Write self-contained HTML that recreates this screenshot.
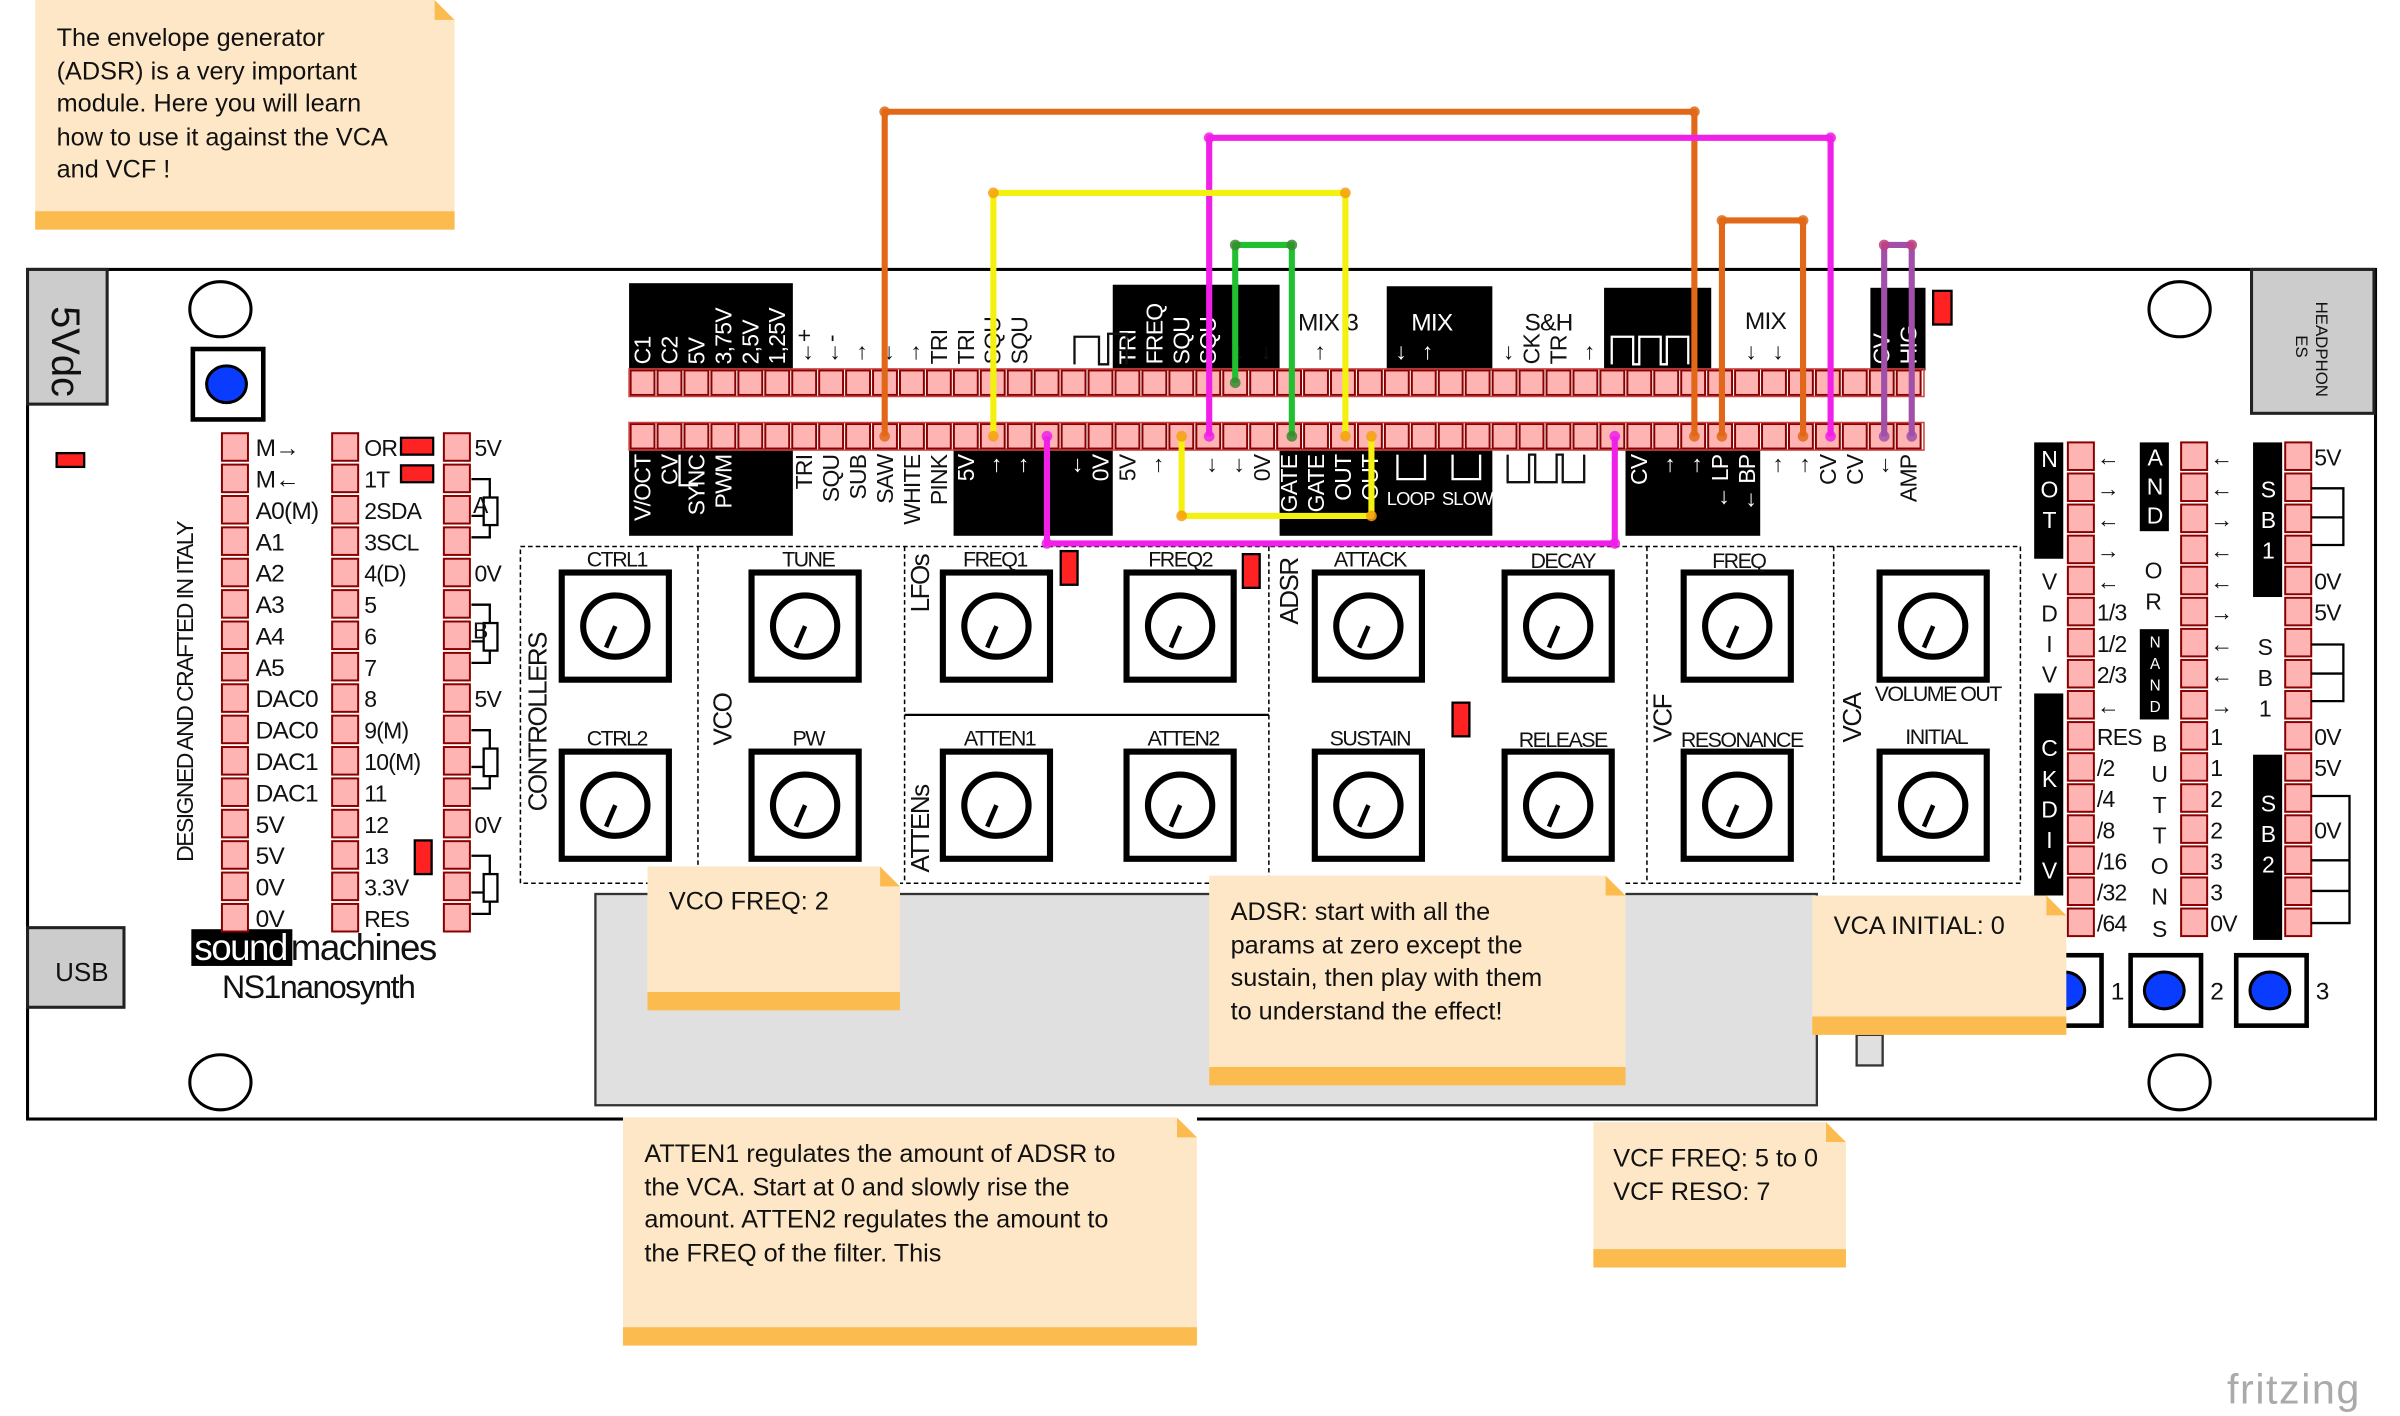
<!DOCTYPE html>
<html><head><meta charset="utf-8"><style>
html,body{margin:0;padding:0;background:#fff;}
svg{display:block}
text{font-family:"Liberation Sans Narrow","Liberation Sans",sans-serif;}
.n{font-family:"DejaVu Sans","Liberation Sans",sans-serif;font-size:16.5px;fill:#111}
</style></head><body>
<svg id="s" xmlns="http://www.w3.org/2000/svg" width="2400" height="1416" viewBox="0 0 1568 925" preserveAspectRatio="none">
<rect x="0" y="0" width="1568" height="925" fill="#fff"/>
<rect x="18" y="176" width="1534" height="555" fill="#fff" stroke="#000" stroke-width="2"/>
<rect x="18" y="176" width="52" height="88" fill="#ccc" stroke="#222" stroke-width="2"/>
<text transform="translate(34,200) rotate(90)" font-size="26" fill="#111">5Vdc</text>
<rect x="18" y="606" width="63" height="52" fill="#ccc" stroke="#222" stroke-width="2"/>
<text x="36" y="641" font-size="17" fill="#111">USB</text>
<rect x="1471" y="176" width="80" height="94" fill="#ccc" stroke="#222" stroke-width="2"/>
<text transform="translate(1513,197) rotate(90)" font-size="11" fill="#111">HEADPHON</text>
<text transform="translate(1500,219) rotate(90)" font-size="11" fill="#111">ES</text>
<ellipse cx="144" cy="202" rx="20" ry="18" fill="#fff" stroke="#000" stroke-width="2"/>
<ellipse cx="144" cy="707" rx="20" ry="18" fill="#fff" stroke="#000" stroke-width="2"/>
<ellipse cx="1424" cy="202" rx="20" ry="18" fill="#fff" stroke="#000" stroke-width="2"/>
<ellipse cx="1424" cy="707" rx="20" ry="18" fill="#fff" stroke="#000" stroke-width="2"/>
<rect x="126" y="228" width="46" height="46" fill="#fff" stroke="#000" stroke-width="3"/>
<ellipse cx="148" cy="251" rx="13" ry="12" fill="#0a3cff" stroke="#000" stroke-width="2"/>
<rect x="37" y="296" width="18" height="9" fill="#f22" stroke="#000" stroke-width="1.5"/>
<text transform="translate(126,563) rotate(-90)" font-size="15" fill="#111" letter-spacing="-1">DESIGNED AND CRAFTED IN ITALY</text>
<rect x="125" y="607" width="66" height="24" fill="#000"/>
<text x="127" y="627" font-size="24" fill="#fff" letter-spacing="-1">sound</text>
<text x="190" y="627" font-size="24" fill="#111" letter-spacing="-1">machines</text>
<text x="145" y="652" font-size="21" fill="#111" letter-spacing="-1">NS1nanosynth</text>
<rect x="389" y="584" width="798" height="138" fill="#e0e0e0" stroke="#333" stroke-width="1.5"/>
<rect x="1213" y="676" width="17" height="20" fill="#e0e0e0" stroke="#333" stroke-width="1.5"/>
<rect x="340" y="357" width="980" height="220" fill="none" stroke="#000" stroke-width="1" stroke-dasharray="3,2"/>
<g stroke="#000" stroke-width="1" stroke-dasharray="3,2">
<line x1="456" y1="357" x2="456" y2="577"/><line x1="591" y1="357" x2="591" y2="577"/><line x1="829" y1="357" x2="829" y2="577"/><line x1="1076" y1="357" x2="1076" y2="577"/><line x1="1198" y1="357" x2="1198" y2="577"/>
</g>
<line x1="591" y1="467" x2="829" y2="467" stroke="#000" stroke-width="1.5"/>
<g id="knobs"></g>
<g font-size="14" fill="#111" text-anchor="middle" letter-spacing="-1">
<text x="403" y="370">CTRL1</text><text x="528" y="370">TUNE</text><text x="650" y="370">FREQ1</text><text x="771" y="370">FREQ2</text><text x="895" y="370">ATTACK</text><text x="1021" y="371">DECAY</text><text x="1136" y="371">FREQ</text><text x="1266" y="458">VOLUME OUT</text>
<text x="403" y="487">CTRL2</text><text x="528" y="487">PW</text><text x="653" y="487">ATTEN1</text><text x="773" y="487">ATTEN2</text><text x="895" y="487">SUSTAIN</text><text x="1021" y="488">RELEASE</text><text x="1138" y="488">RESONANCE</text><text x="1265" y="486">INITIAL</text>
</g>
<g font-size="17" fill="#111" letter-spacing="-1">
<text transform="translate(357,530) rotate(-90)">CONTROLLERS</text>
<text transform="translate(478,487) rotate(-90)">VCO</text>
<text transform="translate(607,400) rotate(-90)">LFOs</text>
<text transform="translate(607,570) rotate(-90)">ATTENs</text>
<text transform="translate(848,408) rotate(-90)">ADSR</text>
<text transform="translate(1092,485) rotate(-90)">VCF</text>
<text transform="translate(1216,485) rotate(-90)">VCA</text>
</g>
<g fill="#f22" stroke="#000" stroke-width="1.5">
<rect x="693" y="360" width="11" height="22"/><rect x="812" y="362" width="11" height="22"/><rect x="949" y="459" width="11" height="22"/><rect x="1263" y="190" width="12" height="22"/><rect x="271" y="549" width="11" height="22"/><rect x="262" y="286" width="21" height="11"/><rect x="262" y="304" width="21" height="11"/>
</g>
<g fill="#000">
<rect x="411" y="185" width="107" height="57"/><rect x="727" y="186" width="109" height="56"/><rect x="906" y="187" width="69" height="55"/><rect x="1048" y="188" width="70" height="54"/><rect x="1222" y="188" width="36" height="54"/>
<rect x="411" y="293" width="107" height="57"/><rect x="623" y="293" width="104" height="57"/><rect x="836" y="293" width="139" height="57"/><rect x="1062" y="293" width="88" height="57"/>
<rect x="1329" y="289" width="19" height="76"/><rect x="1329" y="453" width="19" height="137"/><rect x="1398" y="289" width="19" height="58"/><rect x="1398" y="411" width="19" height="59"/><rect x="1472" y="289" width="19" height="101"/><rect x="1472" y="493" width="19" height="121"/>
</g>
<g id="pins"></g>
<g id="lbl" font-size="15" letter-spacing="-0.5"></g>
<g font-family="DejaVu Sans,sans-serif" font-size="15" text-anchor="middle">
<g fill="#fff"><text x="1339" y="305">N</text><text x="1339" y="325">O</text><text x="1339" y="345">T</text>
<text x="1339" y="494">C</text><text x="1339" y="514">K</text><text x="1339" y="534">D</text><text x="1339" y="554">I</text><text x="1339" y="574">V</text>
<text x="1408" y="304">A</text><text x="1408" y="323">N</text><text x="1408" y="342">D</text>
<g font-size="10"><text x="1408" y="423">N</text><text x="1408" y="437">A</text><text x="1408" y="451">N</text><text x="1408" y="465">D</text></g>
<text x="1482" y="325">S</text><text x="1482" y="345">B</text><text x="1482" y="365">1</text>
<text x="1482" y="530">S</text><text x="1482" y="550">B</text><text x="1482" y="570">2</text></g>
<g fill="#111"><text x="1339" y="385">V</text><text x="1339" y="406">D</text><text x="1339" y="426">I</text><text x="1339" y="446">V</text>
<text x="1407" y="378">O</text><text x="1407" y="398">R</text>
<text x="1411" y="491">B</text><text x="1411" y="511">U</text><text x="1411" y="531">T</text><text x="1411" y="551">T</text><text x="1411" y="571">O</text><text x="1411" y="591">N</text><text x="1411" y="612">S</text>
<text x="1480" y="428">S</text><text x="1480" y="448">B</text><text x="1480" y="468">1</text></g>
</g>
<g id="btns"></g>
<g fill="none" stroke-width="4" stroke-linejoin="round">
<polyline points="578,285 578,73 1107,73 1107,285" stroke="#e06818"/>
<polyline points="790,285 790,90 1196,90 1196,285" stroke="#f020e8"/>
<polyline points="649,285 649,126 879,126 879,285" stroke="#f4f010"/>
<polyline points="807,250 807,160 844,160 844,285" stroke="#20c030"/>
<polyline points="1125,285 1125,144 1178,144 1178,285" stroke="#e06818"/>
<polyline points="1231,285 1231,160 1249,160 1249,285" stroke="#a050a8"/>
<polyline points="684,285 684,355 1055,355 1055,285" stroke="#f020e8"/>
<polyline points="772,285 772,337 896,337 896,285" stroke="#f4f010"/>
</g>
<g id="ends"></g>
<g id="notes"></g>
<g class="n">
<text x="37" y="30">The envelope generator</text><text x="37" y="52">(ADSR) is a very important</text><text x="37" y="73">module. Here you will learn</text><text x="37" y="95">how to use it against the VCA</text><text x="37" y="116">and VCF !</text>
<text x="437" y="594">VCO FREQ: 2</text>
<text x="804" y="601">ADSR: start with all the</text><text x="804" y="623">params at zero except the</text><text x="804" y="644">sustain, then play with them</text><text x="804" y="666">to understand the effect!</text>
<text x="1198" y="610">VCA INITIAL: 0</text>
<text x="421" y="759">ATTEN1 regulates the amount of ADSR to</text><text x="421" y="781">the VCA. Start at 0 and slowly rise the</text><text x="421" y="802">amount. ATTEN2 regulates the amount to</text><text x="421" y="824">the FREQ of the filter. This</text>
<text x="1054" y="762">VCF FREQ: 5 to 0</text><text x="1054" y="784">VCF RESO: 7</text>
</g>
<text x="1455" y="917" font-family="DejaVu Sans,sans-serif" font-size="27" fill="#aaa" letter-spacing="1">fritzing</text>
</svg>
<script>
(function(){
var NS="http://www.w3.org/2000/svg";
function el(p,t,a,txt){var e=document.createElementNS(NS,t);for(var k in a)e.setAttribute(k,a[k]);if(txt!=null)e.textContent=txt;var par=document.getElementById(p);var s=document.getElementById("s");if(p==="notes"){s.insertBefore(e,par);}else{par.appendChild(e);}return e;}
function pin(x,y,w,h){el("pins","rect",{x:x,y:y,width:w,height:h,fill:"#ffb4b4",stroke:"#8a0000","stroke-width":1.3});}
var P=17.6,i,r,y;
for(i=0;i<48;i++){pin(411+P*i+1,242,P-2,16);pin(411+P*i+1,277,P-2,16);}
el("pins","rect",{x:411,y:241,width:846,height:18,fill:"none",stroke:"#c44","stroke-width":1});
el("pins","rect",{x:411,y:276,width:846,height:18,fill:"none",stroke:"#c44","stroke-width":1});
var L1=["M→","M←","A0(M)","A1","A2","A3","A4","A5","DAC0","DAC0","DAC1","DAC1","5V","5V","0V","0V"];
var L2=["OR","1T","2SDA","3SCL","4(D)","5","6","7","8","9(M)","10(M)","11","12","13","3.3V","RES"];
var L3=["5V","","","","0V","","","","5V","","","","0V","","",""];
for(r=0;r<16;r++){y=283+r*20.5;
 pin(145,y,17,18);pin(217,y,17,18);pin(290,y,17,18);
 el("lbl","text",{x:167,y:y+15,"font-size":16,fill:"#111"},L1[r]);
 el("lbl","text",{x:238,y:y+15,"font-size":15,fill:"#111","font-family":"DejaVu Sans,sans-serif"},L2[r]);
 if(L3[r])el("lbl","text",{x:310,y:y+15,"font-size":15,fill:"#111","font-family":"DejaVu Sans,sans-serif"},L3[r]);}
[[308,327,"A"],[308,409,"B"],[308,491,""],[308,573,""]].forEach(function(a){
 el("lbl","path",{d:"M"+a[0]+" "+(a[1]-14)+"h12v12 M"+a[0]+" "+(a[1]+24)+"h12v-12 M"+a[0]+" "+(a[1]+10)+"h12",fill:"none",stroke:"#000","stroke-width":1.5});
 el("lbl","rect",{x:316,y:a[1]-2,width:9,height:18,fill:"#fff",stroke:"#000","stroke-width":1.5});
 if(a[2])el("lbl","text",{x:309,y:a[1]+8,"font-size":15,fill:"#111"},a[2]);});
var R1=["←","→","←","→","←","1/3","1/2","2/3","←","RES","/2","/4","/8","/16","/32","/64"];
var R2=["←","←","→","←","←","→","←","←","→","1","1","2","2","3","3","0V"];
var R3=["5V","","","","0V","5V","","","","0V","5V","","0V","","",""];
for(r=0;r<16;r++){y=289+r*20.3;
 pin(1351,y,17,18);pin(1425,y,17,18);pin(1493,y,17,18);
 el("lbl","text",{x:1370,y:y+15,"font-size":15,fill:"#111"},R1[r]);
 el("lbl","text",{x:1444,y:y+15,"font-size":15,fill:"#111"},R2[r]);
 if(R3[r])el("lbl","text",{x:1512,y:y+15,"font-size":15,fill:"#111"},R3[r]);}
el("lbl","path",{d:"M1510 319h21v37h-21 M1510 338h21 M1510 421h21v37h-21 M1510 440h21 M1510 520h25v83h-25 M1510 562h25 M1510 582h25",fill:"none",stroke:"#000","stroke-width":1.5});
[[1327,"1"],[1392,"2"],[1461,"3"]].forEach(function(b){
 el("btns","rect",{x:b[0],y:624,width:46,height:46,fill:"#fff",stroke:"#000","stroke-width":3});
 el("btns","ellipse",{cx:b[0]+22,cy:647,rx:13,ry:12,fill:"#0a3cff",stroke:"#000","stroke-width":2});
 el("btns","text",{x:b[0]+52,y:653,"font-size":16,fill:"#111","font-family":"DejaVu Sans,sans-serif"},b[1]);});
[402,526,651,771,894,1018,1135,1263].forEach(function(cx){[409,526].forEach(function(cy){
 el("knobs","rect",{x:cx-35,y:cy-35,width:70,height:70,fill:"#fff",stroke:"#000","stroke-width":4});
 el("knobs","ellipse",{cx:cx,cy:cy,rx:21,ry:20,fill:"none",stroke:"#000","stroke-width":4});
 el("knobs","line",{x1:cx,y1:cy,x2:cx-6,y2:cy+14,stroke:"#000","stroke-width":3});});});
function fx(t){return t.replace(/↓/g,"\u0001").replace(/↑/g,"→").replace(/\u0001/g,"←");}
function tl(i,t,c){var x=411+P*i+14;el("lbl","text",{transform:"translate("+x+",238) rotate(-90)",fill:c||"#111","font-size":15},fx(t));}
function bl(i,t,c){var x=411+P*i+14;el("lbl","text",{transform:"translate("+x+",297) rotate(-90)",fill:c||"#111","text-anchor":"end","font-size":15},fx(t));}
["C1","C2","5V","3,75V","2,5V","1,25V"].forEach(function(t,i){tl(i,t,"#fff");});
tl(6,"↓+");tl(7,"↓-");tl(8,"↑");tl(9,"↓ -");tl(10,"↑");tl(11,"TRI");tl(12,"TRI");tl(13,"SQU");tl(14,"SQU");
tl(18,"TRI","#fff");tl(19,"FREQ","#fff");tl(20,"SQU","#fff");tl(21,"SQU","#fff");
tl(22,"↓");tl(23,"↓");tl(25,"↑");tl(26,"↓","#fff");tl(27,"↓","#fff");tl(28,"↓","#fff");tl(29,"↑","#fff");
tl(32,"↓");tl(33,"CK");tl(34,"TR");tl(35,"↑");tl(41,"↓");tl(42,"↓");tl(44,"GATE","#fff");tl(45,"GATE","#fff");tl(46,"CV","#fff");tl(47,"HIG","#fff");
el("lbl","text",{x:848,y:216,"font-size":16,fill:"#111"},"MIX 3");
el("lbl","text",{x:922,y:216,"font-size":16,fill:"#fff"},"MIX");
el("lbl","text",{x:996,y:216,"font-size":16,fill:"#111"},"S&H");
el("lbl","text",{x:1140,y:215,"font-size":16,fill:"#111"},"MIX");
el("lbl","path",{d:"M702 238v-18h16v18h6v-20h12v20",fill:"none",stroke:"#111","stroke-width":1.5});
el("lbl","path",{d:"M1053 238v-18h14v18h4v-18h14v18h4v-18h14v18",fill:"none",stroke:"#fff","stroke-width":1.5});
["V/OCT","CV","SYNC","PWM"].forEach(function(t,i){bl(i,t,"#fff");});
bl(6,"TRI");bl(7,"SQU");bl(8,"SUB");bl(9,"SAW");bl(10,"WHITE");bl(11,"PINK");
bl(12,"5V","#fff");bl(13,"↑","#fff");bl(14,"↑","#fff");bl(16,"↓","#fff");bl(17,"0V","#fff");
bl(18,"5V");bl(19,"↑");bl(21,"↓");bl(22,"↓");bl(23,"0V");
bl(24,"GATE","#fff");bl(25,"GATE","#fff");bl(26,"OUT","#fff");bl(27,"OUT","#fff");
bl(36,"CV","#fff");bl(37,"CV","#fff");bl(38,"↑","#fff");bl(39,"↑","#fff");bl(40,"↓ LP","#fff");bl(41,"↓ BP","#fff");
bl(42,"↑");bl(43,"↑");bl(44,"CV");bl(45,"CV");bl(46,"↓");bl(47,"AMP");
el("lbl","text",{x:906,y:330,"font-size":12,fill:"#fff"},"LOOP");
el("lbl","text",{x:942,y:330,"font-size":12,fill:"#fff"},"SLOW");
el("lbl","path",{d:"M913 297v16h18v-16 M949 297v16h18v-16",fill:"none",stroke:"#fff","stroke-width":1.5});
el("lbl","path",{d:"M985 297v18h14v-18h4v18h14v-18h4v18h14v-18",fill:"none",stroke:"#111","stroke-width":1.5});
el("lbl","path",{d:"M444 297v20h12",fill:"none",stroke:"#fff","stroke-width":1.5});
[[578,285,"#e06818"],[578,73,"#e06818"],[1107,73,"#e06818"],[1107,285,"#e06818"],[790,285,"#f020e8"],[790,90,"#f020e8"],[1196,90,"#f020e8"],[1196,285,"#f020e8"],[649,285,"#f4a010"],[649,126,"#f4a010"],[879,126,"#f4a010"],[879,285,"#f4a010"],[807,250,"#3a8a30"],[807,160,"#3a8a30"],[844,160,"#3a8a30"],[844,285,"#3a8a30"],[1125,285,"#e06818"],[1125,144,"#e06818"],[1178,144,"#e06818"],[1178,285,"#e06818"],[1231,285,"#a050a8"],[1231,160,"#c04080"],[1249,160,"#c04080"],[1249,285,"#a050a8"],[684,285,"#f020e8"],[684,355,"#f020e8"],[1055,355,"#f020e8"],[1055,285,"#f020e8"],[772,285,"#f4a010"],[772,337,"#f4a010"],[896,337,"#f4a010"],[896,285,"#f4a010"]].forEach(function(p){
 el("ends","circle",{cx:p[0],cy:p[1],r:3.5,fill:p[2],opacity:0.85});});
[[23,0,274,150],[423,566,165,94],[790,572,272,137],[1184,585,166,91],[407,730,375,149],[1041,733,165,95]].forEach(function(n){
 var x=n[0],y=n[1],w=n[2],h=n[3];
 el("notes","rect",{x:x,y:y,width:w,height:h,fill:"#fee7c6"});
 el("notes","rect",{x:x,y:y+h-12,width:w,height:12,fill:"#fbbb4f"});
 el("notes","polygon",{points:(x+w-13)+","+y+" "+(x+w)+","+(y+13)+" "+(x+w-13)+","+(y+13),fill:"#fbbb4f"});
 el("notes","polygon",{points:(x+w-13)+","+y+" "+(x+w)+","+y+" "+(x+w)+","+(y+13),fill:"#fff"});});
})();
</script>
</body></html>
